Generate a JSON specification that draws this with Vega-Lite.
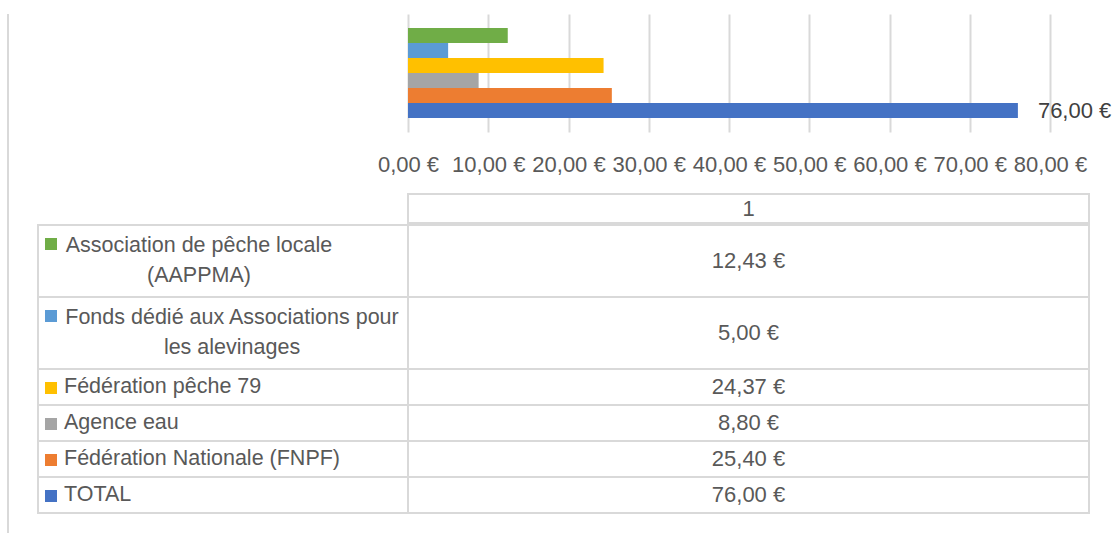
{
  "$schema": "https://vega.github.io/schema/vega-lite/v6.json",
  "padding": {"left": 7, "top": 13, "right": 0, "bottom": 0},
  "config": {
    "font": "Liberation Sans",
    "locale": {"number": {"decimal": ",", "thousands": " ", "grouping": [3], "currency": ["", " €"]}},
    "view": {"stroke": null}
  },
  "datasets": {
    "rows": [
      {"i": 1, "serie": "Association de pêche locale\n(AAPPMA)", "value": 12.43, "lines": 2},
      {"i": 2, "serie": "Fonds dédié aux Associations pour\nles alevinages", "value": 5.00, "lines": 2},
      {"i": 3, "serie": "Fédération pêche 79", "value": 24.37, "lines": 1},
      {"i": 4, "serie": "Agence eau", "value": 8.80, "lines": 1},
      {"i": 5, "serie": "Fédération Nationale (FNPF)", "value": 25.40, "lines": 1},
      {"i": 6, "serie": "TOTAL", "value": 76.00, "lines": 1}
    ],
    "header": [{"col": "1"}],
    "frame": [{"f": 0}]
  },
  "spacing": 28,
  "hconcat": [
    {
      "width": 1, "height": 520,
      "data": {"name": "frame"},
      "mark": {"type": "rule", "color": "#d9d9d9", "strokeWidth": 2},
      "encoding": {"x": {"datum": 0, "type": "quantitative", "scale": {"domain": [0, 1]}, "axis": null}}
    },
    {
      "spacing": 18,
      "vconcat": [
        {
          "spacing": 0,
          "bounds": "flush",
          "hconcat": [
            {
              "width": 370, "height": 118,
              "data": {"name": "frame"},
              "mark": {"type": "rule", "opacity": 0},
              "encoding": {}
            },
            {
              "width": 642, "height": 118,
              "data": {"name": "rows"},
              "encoding": {
                "y": {"field": "serie", "type": "nominal",
                      "sort": ["Association de pêche locale\n(AAPPMA)", "Fonds dédié aux Associations pour\nles alevinages", "Fédération pêche 79", "Agence eau", "Fédération Nationale (FNPF)", "TOTAL"],
                      "scale": {"paddingInner": 0, "paddingOuter": 0.93},
                      "axis": null},
                "x": {"field": "value", "type": "quantitative", "scale": {"domain": [0, 80], "nice": false},
                      "axis": {"values": [0, 10, 20, 30, 40, 50, 60, 70, 80], "format": "$.2f", "title": null, "domain": false, "ticks": false,
                               "grid": true, "gridColor": "#d9d9d9", "gridWidth": 2, "labelFontSize": 22, "labelColor": "#595959",
                               "labelPadding": 22, "labelFlush": false, "labelOverlap": false}}
              },
              "layer": [
                {"mark": {"type": "bar"},
                 "encoding": {"color": {"field": "serie", "type": "nominal", "legend": null,
                   "scale": {"domain": ["Association de pêche locale\n(AAPPMA)", "Fonds dédié aux Associations pour\nles alevinages", "Fédération pêche 79", "Agence eau", "Fédération Nationale (FNPF)", "TOTAL"],
                             "range": ["#70AD47", "#5B9BD5", "#FFC000", "#A5A5A5", "#ED7D31", "#4472C4"]}}}},
                {"transform": [{"filter": "datum.i == 6"}],
                 "mark": {"type": "text", "align": "left", "dx": 20, "fontSize": 22, "color": "#404040"},
                 "encoding": {"text": {"field": "value", "format": "$.2f"}}}
              ]
            }
          ]
        },
        {
          "spacing": 0,
          "vconcat": [
            {
              "spacing": 0,
              "bounds": "flush",
              "hconcat": [
                {
                  "width": 370, "height": 29,
                  "data": {"name": "frame"},
                  "mark": {"type": "rule", "opacity": 0},
                  "encoding": {}
                },
                {
                  "width": 681, "height": 29,
                  "data": {"name": "header"},
                  "view": {"stroke": "#d9d9d9", "strokeWidth": 2},
                  "mark": {"type": "text", "fontSize": 22, "color": "#595959", "baseline": "middle"},
                  "encoding": {"text": {"field": "col"}}
                }
              ]
            },
            {
              "spacing": 0,
              "bounds": "flush",
              "hconcat": [
                {
                  "width": 370, "height": 288,
                  "data": {"name": "rows"},
                  "transform": [{"stack": "lines", "groupby": [], "sort": [{"field": "i", "order": "ascending"}], "as": ["y0", "y1"]}],
                  "encoding": {"y": {"field": "y0", "type": "quantitative", "scale": {"domain": [0, 8], "reverse": true, "nice": false, "zero": false}, "axis": null}},
                  "layer": [
                    {"mark": {"type": "rect", "fill": "white", "stroke": "#d9d9d9", "strokeWidth": 2},
                     "encoding": {"y2": {"field": "y1"}}},
                    {"mark": {"type": "point", "shape": "square", "filled": true, "size": 144, "opacity": 1},
                     "encoding": {"color": {"field": "serie", "type": "nominal", "legend": null,
                       "scale": {"domain": ["Association de pêche locale\n(AAPPMA)", "Fonds dédié aux Associations pour\nles alevinages", "Fédération pêche 79", "Agence eau", "Fédération Nationale (FNPF)", "TOTAL"],
                                 "range": ["#70AD47", "#5B9BD5", "#FFC000", "#A5A5A5", "#ED7D31", "#4472C4"]}},
                       "yOffset": {"value": 19}, "xOffset": {"value": -172}}},
                    {"transform": [{"filter": "datum.lines == 1"}],
                     "mark": {"type": "text", "align": "left", "dx": -159, "dy": 18, "fontSize": 21.5, "color": "#595959", "baseline": "middle"},
                     "encoding": {"text": {"field": "serie"}}},
                    {"transform": [{"filter": "datum.i == 1"}],
                     "mark": {"type": "text", "align": "center", "dx": -24, "dy": 21, "fontSize": 21.5, "color": "#595959", "baseline": "middle", "lineBreak": "\n", "lineHeight": 30},
                     "encoding": {"text": {"field": "serie"}}},
                    {"transform": [{"filter": "datum.i == 2"}],
                     "mark": {"type": "text", "align": "center", "dx": 9, "dy": 21, "fontSize": 21.5, "color": "#595959", "baseline": "middle", "lineBreak": "\n", "lineHeight": 30},
                     "encoding": {"text": {"field": "serie"}}}
                  ]
                },
                {
                  "width": 681, "height": 288,
                  "data": {"name": "rows"},
                  "transform": [{"stack": "lines", "groupby": [], "sort": [{"field": "i", "order": "ascending"}], "as": ["y0", "y1"]}],
                  "encoding": {"y": {"field": "y0", "type": "quantitative", "scale": {"domain": [0, 8], "reverse": true, "nice": false, "zero": false}, "axis": null}},
                  "layer": [
                    {"mark": {"type": "rect", "fill": "white", "stroke": "#d9d9d9", "strokeWidth": 2},
                     "encoding": {"y2": {"field": "y1"}}},
                    {"transform": [{"filter": "datum.lines == 1"}],
                     "mark": {"type": "text", "dy": 18, "fontSize": 22, "color": "#595959", "baseline": "middle"},
                     "encoding": {"text": {"field": "value", "format": "$.2f"}}},
                    {"transform": [{"filter": "datum.lines == 2"}],
                     "mark": {"type": "text", "dy": 36, "fontSize": 22, "color": "#595959", "baseline": "middle"},
                     "encoding": {"text": {"field": "value", "format": "$.2f"}}}
                  ]
                }
              ]
            }
          ]
        }
      ]
    }
  ]
}
